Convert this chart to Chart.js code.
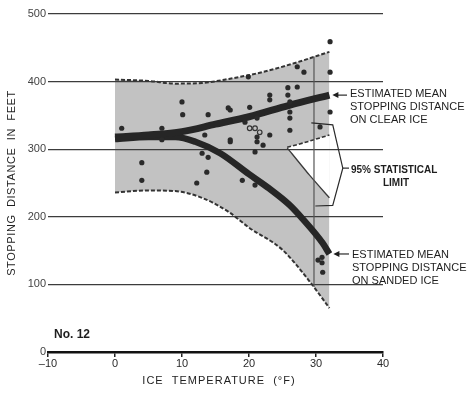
<!DOCTYPE html>
<html>
<head>
<meta charset="utf-8">
<script src="https://cdn.jsdelivr.net/npm/chart.js@4"></script>
<style>
  html, body { margin: 0; padding: 0; background: #fff; }
  canvas { display: block; }
</style>
</head>
<body>
<canvas id="chart" width="475" height="393"></canvas>
<script>
// ice temperature (°F) against stopping distance (ft)
const tempTicks = [-10, 0, 10, 20, 30, 40];
const distTicks = [0, 100, 200, 300, 400, 500];

// observed stops
const obsTemp = [32.1, 32.1, 32.1, 27.2, 28.2, 25.8, 25.8, 26.1, 26.1, 26.1, 26.1, 27.2, 23.1, 23.1, 20.1, 17.2,
  21.2, 23.1, 21.2, 21.2, 17.2, 22.1, 19.4, 19.9, 10, 10.1, 13.9, 1, 7, 7, 4, 4, 13.7, 12.2, 13, 13.9, 19, 20.9,
  30.9, 30.9, 31, 30.3, 17.2, 20.9, 30.6, 16.9, 13.4];
const obsDist = [459, 414, 355, 422, 414, 391, 380, 370, 355, 346, 328, 392, 380, 373, 362, 358,
  346, 321, 318, 311, 314, 306, 340, 407, 370, 351, 351, 331, 331, 314, 280, 254, 266, 250, 294, 288, 254, 247,
  140, 132, 118, 136, 311, 296, 333, 361, 321];
const openTemp = [20.1, 20.9, 21.6];
const openDist = [331, 331, 325];

// estimated means
const clearTemp = [0, 5, 10, 15, 20, 26, 32];
const clearDist = [318, 321, 326, 337, 348, 365, 380];
const sandTemp = [0, 5, 9, 12, 15.7, 20, 23, 26, 28, 31, 32];
const sandDist = [315, 318, 318, 311, 294, 263, 242, 218, 197, 161, 145];

// 95% limits
const upperTemp = [0, 5, 9, 13, 17, 22, 27, 32];
const upperDist = [403, 401, 397, 398, 404, 414, 428, 444];
const lowerTemp = [0, 5, 9, 13, 17, 20, 25, 29, 32];
const lowerDist = [236, 239, 238, 228, 207, 184, 151, 105, 65];
const clearLowTemp = [25.7, 28, 32];
const clearLowDist = [303, 309, 321];
const sandHighTemp = [25.7, 29, 32];
const sandHighDist = [302, 262, 228];

// range bar at 30 °F
const rangeTemp = [29.7, 29.7];
const rangeDist = [96, 437];

const pts = (xs, ys) => xs.map((x, i) => ({ x: x, y: ys[i] }));
const last = a => a[a.length - 1];

const limitLine = {
  showLine: true, pointRadius: 0, borderColor: '#333', borderWidth: 2,
  borderDash: [4, 2], cubicInterpolationMode: 'monotone', fill: false
};

const notes = {
  id: 'notes',
  afterDraw(chart) {
    const { ctx, scales: { x, y } } = chart;
    const txt = (s, px, py, font, align) => {
      ctx.font = font;
      ctx.textAlign = align || 'left';
      ctx.fillText(s, px, py);
    };
    ctx.save();
    ctx.fillStyle = '#1e1e1e';
    ctx.strokeStyle = '#2a2a2a';
    ctx.textBaseline = 'middle';

    // axis titles
    ctx.letterSpacing = '1px';
    txt('ICE  TEMPERATURE  (°F)', 219, 381, '11px "Liberation Sans"', 'center');
    ctx.save();
    ctx.translate(12, 183);
    ctx.rotate(-Math.PI / 2);
    ctx.letterSpacing = '0.6px';
    txt('STOPPING  DISTANCE  IN  FEET', 0, 0, '11px "Liberation Sans"', 'center');
    ctx.restore();
    ctx.letterSpacing = '0px';

    txt('No. 12', 54, 335, 'bold 12px "Liberation Sans"');

    // callouts
    const f = '11px "Liberation Sans"';
    txt('ESTIMATED MEAN', 350, 94, f);
    txt('STOPPING DISTANCE', 350, 107, f);
    txt('ON CLEAR ICE', 350, 120, f);
    txt('ESTIMATED MEAN', 352, 255, f);
    txt('STOPPING DISTANCE', 352, 268, f);
    txt('ON SANDED ICE', 352, 281, f);
    const fb = 'bold 10px "Liberation Sans Narrow", "Liberation Sans"';
    txt('95% STATISTICAL', 351, 170, fb);
    txt('LIMIT', 396, 183, fb, 'center');

    // arrows to the ends of the mean lines
    const arrow = (tx, ty, px) => {
      ctx.lineWidth = 1.2;
      ctx.beginPath();
      ctx.moveTo(px, ty);
      ctx.lineTo(tx + 4, ty);
      ctx.stroke();
      ctx.beginPath();
      ctx.moveTo(tx, ty);
      ctx.lineTo(tx + 6, ty - 3);
      ctx.lineTo(tx + 6, ty + 3);
      ctx.closePath();
      ctx.fill();
    };
    arrow(x.getPixelForValue(last(clearTemp)) + 3, y.getPixelForValue(last(clearDist)), 347);
    arrow(x.getPixelForValue(last(sandTemp)) + 4, y.getPixelForValue(last(sandDist)), 349);

    // bracket for the 95% limits
    const br = [[29.3, 339], [32.5, 336], [34, 272], [32.5, 217], [29.9, 216]];
    ctx.lineWidth = 1.2;
    ctx.beginPath();
    br.forEach((p, i) => {
      const px = x.getPixelForValue(p[0]), py = y.getPixelForValue(p[1]);
      if (i === 0) ctx.moveTo(px, py); else ctx.lineTo(px, py);
    });
    ctx.stroke();
    ctx.beginPath();
    ctx.moveTo(x.getPixelForValue(34), y.getPixelForValue(272));
    ctx.lineTo(349, y.getPixelForValue(272));
    ctx.stroke();
    ctx.restore();
  }
};

const ctx = document.getElementById('chart').getContext('2d');

new Chart(ctx, {
  type: 'line',
  data: {
    datasets: [
      { data: pts(obsTemp, obsDist), showLine: false, pointRadius: 2.6, pointBackgroundColor: '#2a2a2a', pointBorderWidth: 0 },
      { data: pts(openTemp, openDist), showLine: false, pointRadius: 2.3, pointBackgroundColor: 'rgba(0,0,0,0)', pointBorderColor: '#333', pointBorderWidth: 1.2 },
      { data: pts(clearTemp, clearDist), showLine: true, pointRadius: 0, borderColor: '#262626', borderWidth: 7, cubicInterpolationMode: 'monotone' },
      { data: pts(sandTemp, sandDist), showLine: true, pointRadius: 0, borderColor: '#262626', borderWidth: 6.5, cubicInterpolationMode: 'monotone' },
      { data: pts(rangeTemp, rangeDist), showLine: true, pointRadius: 0, borderColor: '#555', borderWidth: 1.2 },
      Object.assign({}, limitLine, { data: pts(clearLowTemp, clearLowDist), fill: '+1', backgroundColor: '#fff', borderWidth: 1.6 }),
      { data: pts(sandHighTemp, sandHighDist), showLine: true, pointRadius: 0, borderColor: '#3a3a3a', borderWidth: 1.3, tension: 0.2 },
      Object.assign({}, limitLine, { data: pts(upperTemp, upperDist), fill: '+1', backgroundColor: '#c2c2c2' }),
      Object.assign({}, limitLine, { data: pts(lowerTemp, lowerDist) })
    ]
  },
  options: {
    responsive: false,
    animation: false,
    devicePixelRatio: 1,
    events: [],
    layout: { padding: { top: 14, right: 92, bottom: 0, left: 0 } },
    plugins: {
      legend: { display: false },
      tooltip: { enabled: false },
      filler: { drawTime: 'beforeDraw' }
    },
    scales: {
      x: {
        type: 'linear',
        min: -10, max: 40,
        afterBuildTicks: s => { s.ticks = tempTicks.map(v => ({ value: v })); },
        afterFit: s => { s.height = 41; },
        grid: { drawOnChartArea: false, drawTicks: true, tickLength: 5, color: '#222', lineWidth: 1.5 },
        border: { display: true, color: '#111', width: 2.5 },
        ticks: {
          color: '#2a2a2a', padding: 0,
          font: { family: 'Liberation Sans', size: 11 },
          callback: v => String(v).replace('-', '\u2013')
        }
      },
      y: {
        min: 0, max: 500,
        afterBuildTicks: s => { s.ticks = distTicks.map(v => ({ value: v })); },
        afterFit: s => { s.width = 48; },
        grid: {
          color: c => (c.tick && c.tick.value === 0) ? 'rgba(0,0,0,0)' : '#3c3c3c',
          lineWidth: 1.3, tickLength: 0
        },
        border: { display: false },
        ticks: {
          color: '#444', padding: 2,
          font: { family: 'Liberation Sans', size: 11 }
        }
      }
    }
  },
  plugins: [notes]
});
</script>
</body>
</html>
